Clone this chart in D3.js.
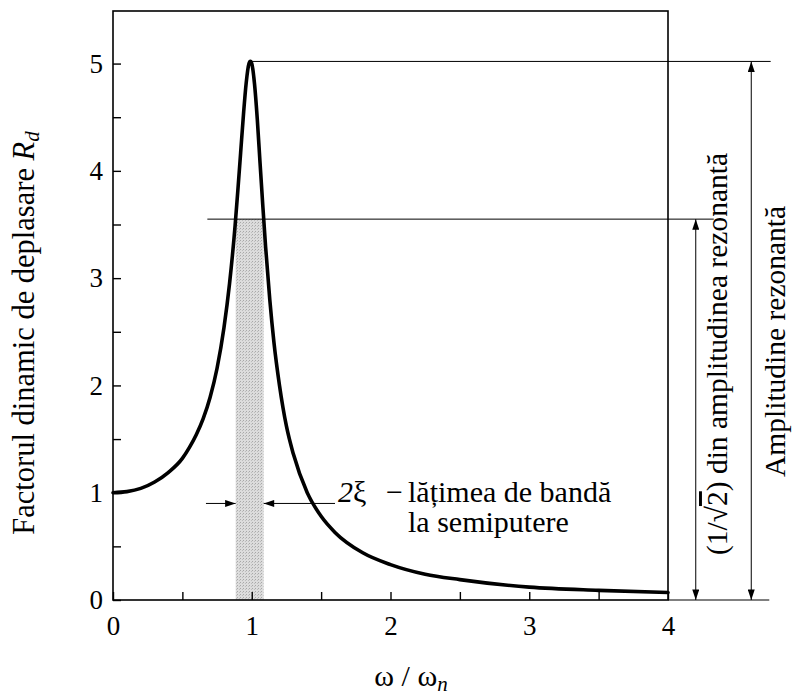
<!DOCTYPE html>
<html>
<head>
<meta charset="utf-8">
<script src="https://cdn.jsdelivr.net/npm/d3@7"></script>
</head>
<body style="margin:0; background:#fff">
<svg id="chart" width="793" height="695" style="display:block"></svg>
<script>
// Frequency ratio ω/ωn and displacement response factor Rd (ξ ≈ 0.1)
const freqRatio = [0, 0.1, 0.2, 0.3, 0.4, 0.5, 0.55, 0.6, 0.65, 0.7, 0.75, 0.8, 0.84, 0.88, 0.9,
  0.92, 0.94, 0.96, 0.98, 0.99, 1.0, 1.02, 1.04, 1.06, 1.08, 1.1, 1.13, 1.16, 1.2, 1.25,
  1.3, 1.4, 1.5, 1.6, 1.8, 2.0, 2.25, 2.5, 3.0, 3.5, 4.0];
const dispFactor = [1.00, 1.01, 1.04, 1.10, 1.19, 1.32, 1.42, 1.54, 1.69, 1.89, 2.16, 2.54, 2.95, 3.49, 3.82,
  4.17, 4.52, 4.82, 5.00, 5.02, 5.00, 4.81, 4.48, 4.07, 3.67, 3.29, 2.80, 2.40, 2.00, 1.62,
  1.36, 1.00, 0.78, 0.63, 0.44, 0.33, 0.24, 0.19, 0.12, 0.09, 0.07];

// Resonant amplitude and half-power level (1/√2 of resonant)
const peakAmplitude = [5.02];
const halfPowerAmplitude = [3.55];
// Half-power band limits on the frequency axis
const halfPowerBand = [0.884, 1.086];

const xTickValues = [0, 0.5, 1, 1.5, 2, 2.5, 3, 3.5, 4];
const yTickValues = [0, 0.5, 1, 1.5, 2, 2.5, 3, 3.5, 4, 4.5, 5];

// all text is set at a 24px base size and scaled to its final size
const FONT = '"Liberation Serif"';
const BASE = 24;

const svg = d3.select("#chart");
const plotLeft = 113, plotRight = 668, plotTop = 11, plotBottom = 600;

const x = d3.scaleLinear().domain([0, 4]).range([plotLeft, plotRight]);
const y = d3.scaleLinear().domain([0, 5.49]).range([plotBottom, plotTop]);

function styled(sel) {
  return sel.style("font-family", FONT).style("font-size", BASE + "px").attr("fill", "#000");
}
// text placed at (px, py), optionally rotated, at the given pixel size
function place(px, py, size, rotate) {
  const k = size / BASE;
  const t = styled(svg.append("text"))
    .attr("transform", `translate(${px},${py})${rotate ? ` rotate(${rotate})` : ""} scale(${k})`);
  t.node().__k = k;
  return t;
}

// arrowhead marker
const defs = svg.append("defs");
defs.append("marker")
  .attr("id", "head")
  .attr("viewBox", "0 0 12 8")
  .attr("refX", 12).attr("refY", 4)
  .attr("markerWidth", 12).attr("markerHeight", 7)
  .attr("markerUnits", "userSpaceOnUse")
  .attr("orient", "auto-start-reverse")
  .append("path").attr("d", "M0,0 L12,4 L0,8 Z").attr("fill", "#000");

// stippled fill for the half-power band
const pat = defs.append("pattern")
  .attr("id", "stipple").attr("width", 3).attr("height", 3)
  .attr("patternUnits", "userSpaceOnUse");
pat.append("rect").attr("width", 3).attr("height", 3).attr("fill", "#dcdcdc");
pat.append("rect").attr("x", 0).attr("y", 0).attr("width", 1).attr("height", 1).attr("fill", "#a8a8a8");
pat.append("rect").attr("x", 2).attr("y", 1).attr("width", 1).attr("height", 1).attr("fill", "#bdbdbd");

// half-power band
svg.append("rect")
  .attr("x", x(halfPowerBand[0]))
  .attr("y", y(halfPowerAmplitude[0]))
  .attr("width", x(halfPowerBand[1]) - x(halfPowerBand[0]))
  .attr("height", y(0) - y(halfPowerAmplitude[0]))
  .attr("fill", "url(#stipple)");

// axes with inward ticks
const tickK = 27 / BASE;
const xAxis = d3.axisBottom(x).tickValues(xTickValues)
  .tickSizeInner(-8).tickSizeOuter(0).tickPadding(16 / tickK)
  .tickFormat(d => Number.isInteger(d) ? d : "");
const yAxis = d3.axisLeft(y).tickValues(yTickValues)
  .tickSizeInner(-8).tickSizeOuter(0).tickPadding(10 / tickK)
  .tickFormat(d => Number.isInteger(d) ? d : "");

const gx = svg.append("g").attr("transform", `translate(0,${plotBottom})`).call(xAxis);
const gy = svg.append("g").attr("transform", `translate(${plotLeft},0)`).call(yAxis);
[gx, gy].forEach(g => {
  g.attr("font-family", null).attr("font-size", null);
  g.select(".domain").remove();
  g.selectAll(".tick line").attr("stroke", "#000").attr("stroke-width", 1.4);
  styled(g.selectAll(".tick text")).attr("transform", `scale(${tickK})`);
});

// plot frame
svg.append("rect")
  .attr("x", plotLeft).attr("y", plotTop)
  .attr("width", plotRight - plotLeft).attr("height", plotBottom - plotTop)
  .attr("fill", "none").attr("stroke", "#000").attr("stroke-width", 1.6);

// response curve
const pts = freqRatio.map((r, i) => [r, dispFactor[i]]);
const line = d3.line().x(d => x(d[0])).y(d => y(d[1])).curve(d3.curveMonotoneX);
svg.append("path")
  .attr("d", line(pts))
  .attr("fill", "none").attr("stroke", "#000")
  .attr("stroke-width", 3.6).attr("stroke-linejoin", "round").attr("stroke-linecap", "round");

// reference lines for resonant and half-power levels
function hline(x1, x2, v) {
  return svg.append("line").attr("x1", x1).attr("x2", x2).attr("y1", y(v)).attr("y2", y(v))
    .attr("stroke", "#000").attr("stroke-width", 1);
}
hline(x(0.99), x(4.74), peakAmplitude[0]);
hline(x(0.68), x(4.33), halfPowerAmplitude[0]);
hline(x(4), x(4.73), 0);

// dimension arrows
function arrow(x1, y1, x2, y2, both) {
  const l = svg.append("line")
    .attr("x1", x1).attr("y1", y1).attr("x2", x2).attr("y2", y2)
    .attr("stroke", "#000").attr("stroke-width", 1)
    .attr("marker-end", "url(#head)");
  if (both) l.attr("marker-start", "url(#head)");
  return l;
}
arrow(x(4.2), y(halfPowerAmplitude[0]), x(4.2), y(0), true);
arrow(x(4.6), y(peakAmplitude[0]), x(4.6), y(0), true);

// bandwidth arrows
const bandY = 0.9;
arrow(x(0.67), y(bandY), x(halfPowerBand[0]), y(bandY), false);
arrow(x(1.6), y(bandY), x(halfPowerBand[1]), y(bandY), false);

// bandwidth annotation
const t1 = place(338, y(bandY) - 1, 30);
t1.append("tspan").style("font-style", "italic").text("2");
t1.append("tspan").text("ξ");
place(403, y(bandY) - 1, 30).attr("text-anchor", "end").text("−");
place(408, y(bandY) - 1, 30).text("lățimea de bandă");
place(408, y(bandY) + 29, 30).text("la semiputere");

// vertical dimension labels
const lab1 = place(727, 555, 29.5, -90);
lab1.append("tspan").text("(1/√");
lab1.append("tspan").style("text-decoration", "overline").text("2");
lab1.append("tspan").text(") din amplitudinea rezonantă");

place(785, 477, 29.5, -90).text("Amplitudine rezonantă");

// axis titles
const yl = place(34, 333, 30.5, -90).attr("text-anchor", "middle");
const ylk = yl.node().__k;
yl.append("tspan").text("Factorul dinamic de deplasare ");
yl.append("tspan").style("font-style", "italic").text("R");
yl.append("tspan").style("font-style", "italic").style("font-size", (21 / ylk) + "px")
  .attr("dy", 5 / ylk).text("d");

const xl = place(411, 686, 30).attr("text-anchor", "middle");
const xlk = xl.node().__k;
xl.append("tspan").text("ω / ω");
xl.append("tspan").style("font-style", "italic").style("font-size", (21 / xlk) + "px")
  .attr("dy", 5 / xlk).text("n");
</script>
</body>
</html>
